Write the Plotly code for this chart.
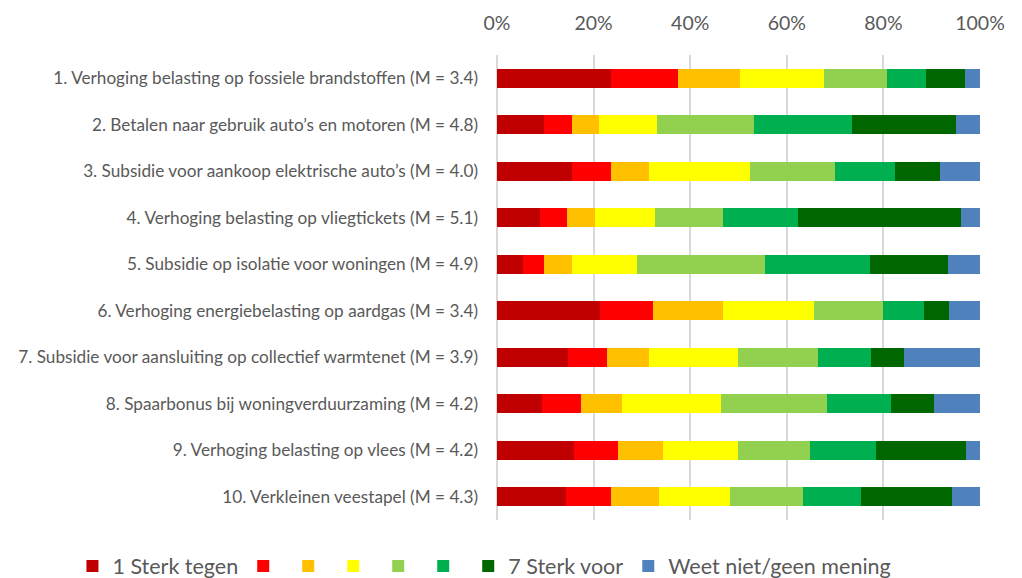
import plotly.graph_objects as go

# items (top to bottom)
categories = [
    "1. Verhoging belasting op fossiele brandstoffen (M = 3.4)",
    "2. Betalen naar gebruik auto’s en motoren (M = 4.8)",
    "3. Subsidie voor aankoop elektrische auto’s (M = 4.0)",
    "4. Verhoging belasting op vliegtickets (M = 5.1)",
    "5. Subsidie op isolatie voor woningen (M = 4.9)",
    "6. Verhoging energiebelasting op aardgas (M = 3.4)",
    "7. Subsidie voor aansluiting op collectief warmtenet (M = 3.9)",
    "8. Spaarbonus bij woningverduurzaming (M = 4.2)",
    "9. Verhoging belasting op vlees (M = 4.2)",
    "10. Verkleinen veestapel (M = 4.3)",
]

# share per answer category (%)
level_1 = [23.6, 9.7, 15.5, 8.8, 5.3, 21.3, 14.8, 9.3, 16.0, 14.2]
level_2 = [13.8, 5.8, 8.0, 5.7, 4.5, 11.0, 7.9, 8.0, 9.1, 9.3]
level_3 = [12.9, 5.6, 7.9, 5.8, 5.8, 14.4, 8.7, 8.5, 9.2, 10.0]
level_4 = [17.5, 12.1, 20.9, 12.4, 13.4, 18.9, 18.5, 20.6, 15.6, 14.8]
level_5 = [13.0, 20.1, 17.6, 14.1, 26.5, 14.4, 16.5, 22.0, 14.8, 15.0]
level_6 = [8.0, 20.2, 12.4, 15.6, 21.8, 8.4, 11.1, 13.2, 13.7, 12.1]
level_7 = [8.0, 21.5, 9.4, 33.6, 16.1, 5.2, 6.8, 8.9, 18.6, 18.9]
dont_know = [3.2, 5.0, 8.3, 4.0, 6.6, 6.4, 15.7, 9.5, 3.0, 5.7]

series_names = ["1 Sterk tegen", "", "", "", "", "", "7 Sterk voor", "Weet niet/geen mening"]
series_values = [level_1, level_2, level_3, level_4, level_5, level_6, level_7, dont_know]
colors = ["#C00000", "#FF0000", "#FFC000", "#FFFF00", "#92D050", "#00B050", "#006600", "#4F81BD"]

FONT = "Lato, 'Open Sans', sans-serif"
GREY = "#595959"

fig = go.Figure()
for name, vals, col in zip(series_names, series_values, colors):
    fig.add_trace(go.Bar(
        y=categories,
        x=[v / 100 for v in vals],
        name=name,
        orientation="h",
        marker=dict(color=col, line=dict(width=0)),
        hovertemplate="%{y}<br>%{x:.1%}<extra></extra>",
    ))

# the page body has an 8px margin, so the figure is shifted a bit up/left
fig.update_layout(
    barmode="stack",
    bargap=0.6,
    width=1022,
    height=600,
    margin=dict(l=489, r=50, t=47, b=88),
    plot_bgcolor="white",
    paper_bgcolor="white",
    font=dict(family=FONT, color=GREY),
    legend=dict(
        orientation="h",
        x=-0.879, xanchor="left",
        y=-0.099, yanchor="middle",
        font=dict(size=21.5, color=GREY),
        traceorder="normal",
        itemwidth=30,
    ),
)

fig.update_xaxes(
    side="top",
    range=[0, 1],
    tickvals=[0, 0.2, 0.4, 0.6, 0.8, 1.0],
    tickformat=".0%",
    tickfont=dict(size=19.5, color=GREY),
    showgrid=True,
    gridcolor="#D9D9D9",
    gridwidth=2,
    zeroline=True,
    zerolinecolor="#D9D9D9",
    zerolinewidth=2,
    showline=False,
    ticks="",
    ticklabelstandoff=20,
    automargin=False,
)
fig.update_yaxes(
    autorange="reversed",
    tickfont=dict(size=17.2, color=GREY),
    showgrid=False,
    ticks="",
    ticklabelstandoff=18,
    automargin=False,
)

fig.write_html("out.html")
